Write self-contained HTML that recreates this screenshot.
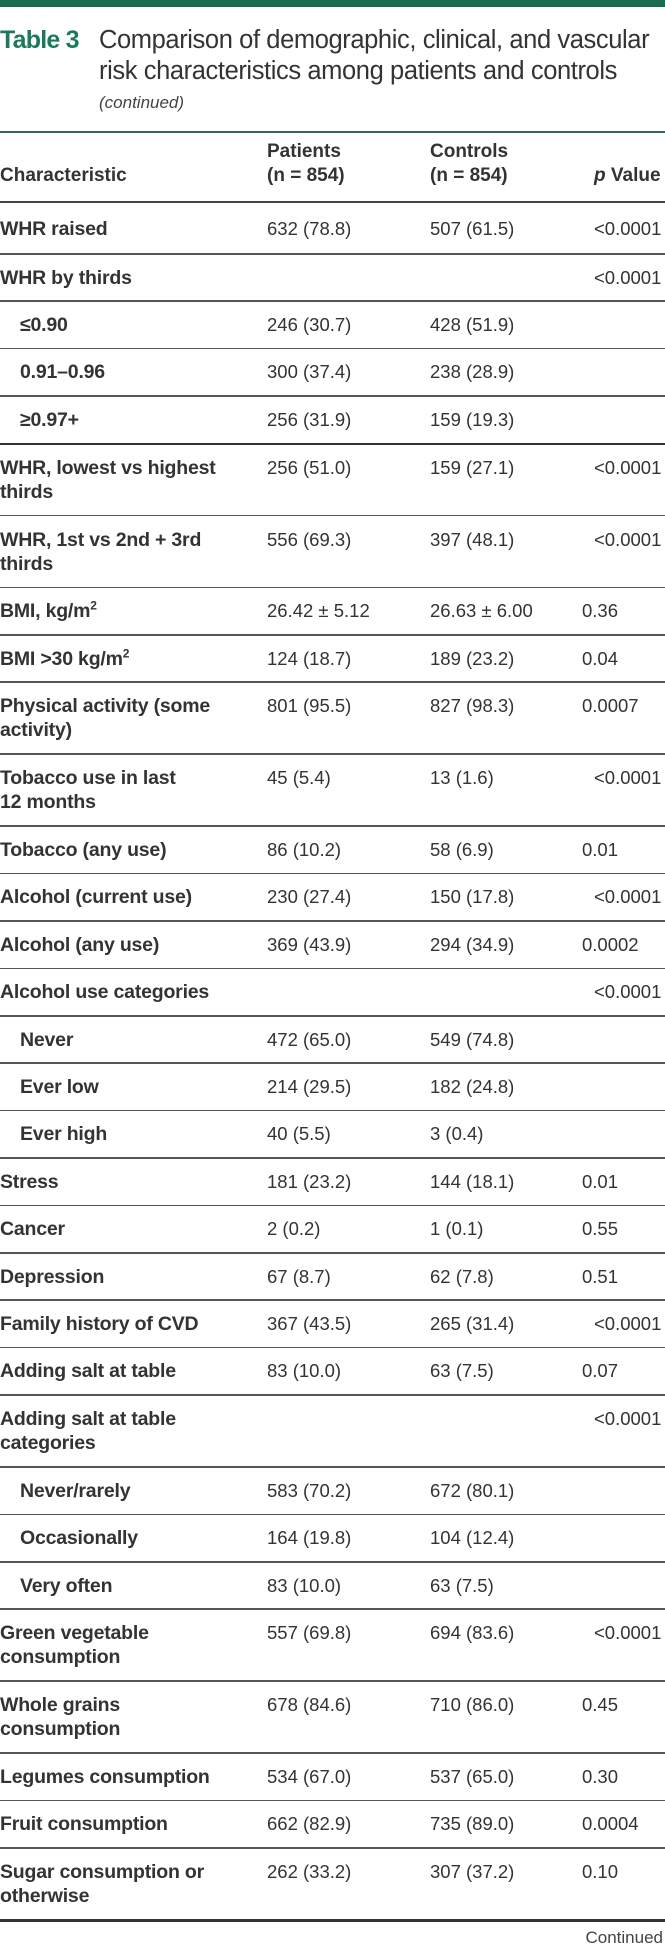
<!DOCTYPE html>
<html><head><meta charset="utf-8">
<style>
html,body{margin:0;padding:0;background:#fff;}
body{width:665px;height:1951px;position:relative;overflow:hidden;font-family:"Liberation Sans",sans-serif;color:#333;}
#bar{position:absolute;left:0;top:0;width:665px;height:7px;background:#1d6b4e;}
#t1{position:absolute;left:0;top:26px;font-size:25px;font-weight:bold;color:#1d7a58;letter-spacing:-0.8px;}
.tt{position:absolute;left:99px;font-size:25.5px;color:#333;white-space:nowrap;letter-spacing:-0.4px;}
#cont{position:absolute;left:99px;top:93px;font-size:17px;font-style:italic;color:#444;}
.rule{position:absolute;left:0;width:665px;background:#555;}
.hd{position:absolute;font-size:19px;font-weight:bold;line-height:24px;color:#333;white-space:nowrap;}
.row{position:absolute;left:0;width:665px;font-size:18.5px;line-height:24px;}
.row div{position:absolute;white-space:nowrap;}
.lab{font-weight:bold;left:0;font-size:19.5px;letter-spacing:-0.2px;}
sup{line-height:0;font-size:12px;}
.c1{left:267px;}.c2{left:430px;}.c3{left:582px;}
#foot{position:absolute;right:2px;top:1928px;font-size:17px;color:#444;}
</style></head><body>
<div id="bar"></div>
<div id="t1">Table 3</div>
<div class="tt" style="top:26px">Comparison of demographic, clinical, and vascular</div>
<div class="tt" style="top:57px">risk characteristics among patients and controls</div>
<div id="cont">(continued)</div>
<div class="rule" style="top:131px;height:2px;background:#2f6a55"></div>
<div class="hd" style="left:0;top:164px">Characteristic</div>
<div class="hd" style="left:267px;top:140px">Patients<br>(n = 854)</div>
<div class="hd" style="left:430px;top:140px">Controls<br>(n = 854)</div>
<div class="hd" style="left:594px;top:164px"><i>p</i> Value</div>
<div class="rule" style="top:201px;height:2px;background:#444"></div>
<div id="rows"></div>
<div id="foot">Continued</div>
<script>
const labels=["WHR raised","WHR by thirds","≤0.90","0.91–0.96","≥0.97+","WHR, lowest vs highest|thirds","WHR, 1st vs 2nd + 3rd|thirds","BMI, kg/m<sup>2</sup>","BMI >30 kg/m<sup>2</sup>","Physical activity (some|activity)","Tobacco use in last|12 months","Tobacco (any use)","Alcohol (current use)","Alcohol (any use)","Alcohol use categories","Never","Ever low","Ever high","Stress","Cancer","Depression","Family history of CVD","Adding salt at table","Adding salt at table|categories","Never/rarely","Occasionally","Very often","Green vegetable|consumption","Whole grains|consumption","Legumes consumption","Fruit consumption","Sugar consumption or|otherwise"];
const patients=["632 (78.8)","","246 (30.7)","300 (37.4)","256 (31.9)","256 (51.0)","556 (69.3)","26.42 ± 5.12","124 (18.7)","801 (95.5)","45 (5.4)","86 (10.2)","230 (27.4)","369 (43.9)","","472 (65.0)","214 (29.5)","40 (5.5)","181 (23.2)","2 (0.2)","67 (8.7)","367 (43.5)","83 (10.0)","","583 (70.2)","164 (19.8)","83 (10.0)","557 (69.8)","678 (84.6)","534 (67.0)","662 (82.9)","262 (33.2)"];
const controls=["507 (61.5)","","428 (51.9)","238 (28.9)","159 (19.3)","159 (27.1)","397 (48.1)","26.63 ± 6.00","189 (23.2)","827 (98.3)","13 (1.6)","58 (6.9)","150 (17.8)","294 (34.9)","","549 (74.8)","182 (24.8)","3 (0.4)","144 (18.1)","1 (0.1)","62 (7.8)","265 (31.4)","63 (7.5)","","672 (80.1)","104 (12.4)","63 (7.5)","694 (83.6)","710 (86.0)","537 (65.0)","735 (89.0)","307 (37.2)"];
const pvals=["<0.0001","<0.0001","","","","<0.0001","<0.0001","0.36","0.04","0.0007","<0.0001","0.01","<0.0001","0.0002","<0.0001","","","","0.01","0.55","0.51","<0.0001","0.07","<0.0001","","","","<0.0001","0.45","0.30","0.0004","0.10"];
const indented=[2,3,4,15,16,17,24,25,26];
const thick=[4,31];
const host=document.getElementById('rows');
let y=203;
labels.forEach((lab,i)=>{
  const two=lab.indexOf('|')>=0;
  const h=i===0?51:(two?72:47.4);
  const r=document.createElement('div');
  r.className='row';
  
  
  r.style.top=y+'px';r.style.height=h+'px';
  const ty=(h-(two?48:24))/2;
  const l=document.createElement('div');
  l.className='lab';
  
  
  l.style.top=ty+'px';
  if(indented.includes(i)) l.style.left='20px';
  l.innerHTML=lab.replace('|','<br>');
  r.appendChild(l);
  [[patients[i],'c1','patients-value'],[controls[i],'c2','controls-value'],[pvals[i],'c3','p-value']].forEach(v=>{
    const c=document.createElement('div');
    c.className=v[1];
    
    
    c.style.top=ty+'px';
    if(v[1]==='c3'&&v[0].charAt(0)==='<') c.style.left='594px';
    c.textContent=v[0];
    r.appendChild(c);
  });
  host.appendChild(r);
  y+=h;
  const ru=document.createElement('div');
  ru.className='rule';
  
  
  ru.style.top=(y-1)+'px';
  ru.style.height=(thick.includes(i)?2.5:1.5)+'px';
  if(thick.includes(i)) ru.style.background='#333';
  host.appendChild(ru);
});
</script>
</body></html>
